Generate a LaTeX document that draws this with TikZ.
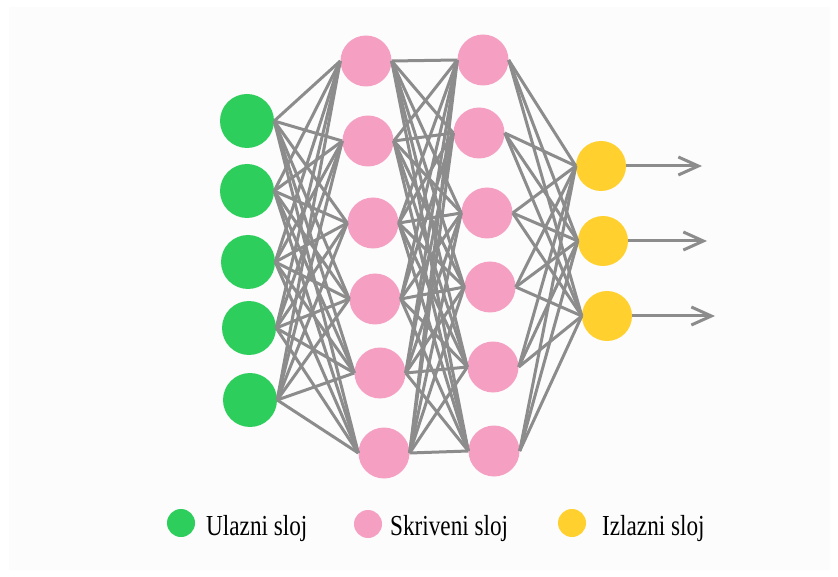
\documentclass[tikz,border=0pt]{standalone}
\usepackage{fontspec}
\setmainfont{Liberation Serif}
\newfontfamily\legendfont[FakeStretch=0.8]{Liberation Serif}
\usetikzlibrary{arrows.meta}
\definecolor{ingreen}{HTML}{2DCE5B}
\definecolor{hidpink}{HTML}{F5A0C2}
\definecolor{outyellow}{HTML}{FFD02E}
\definecolor{linkgray}{HTML}{8C8C8C}
\definecolor{panel}{HTML}{FCFCFC}
\begin{document}
\begin{tikzpicture}[x=1pt,y=-1pt,
  neuron/.style={circle,inner sep=0pt,minimum size=#1},
  link/.style={draw=linkgray,line width=3pt},
  legendtext/.style={anchor=base west,inner sep=0pt,font=\legendfont\fontsize{29}{30}\selectfont}]
\useasboundingbox (0,0) rectangle (838,577);
\fill[panel] (9,7) rectangle (830,570);
\foreach \x/\y [count=\i] in {247/121,247/191,248/262,249/328,250/400}
  \node[neuron=54,fill=ingreen] (in\i) at (\x,\y) {};
\foreach \x/\y [count=\i] in {366/61,368/141,373/223,375/299,380/373,384/453}
  \node[neuron=51,fill=hidpink] (ha\i) at (\x,\y) {};
\foreach \x/\y [count=\i] in {483/60,479/133,487/213,490/287,493/367,494/451}
  \node[neuron=51,fill=hidpink] (hb\i) at (\x,\y) {};
\foreach \x/\y/\e [count=\i] in {601/166/702,603/241/707,607/316/715}{
  \node[neuron=50,fill=outyellow] (out\i) at (\x,\y) {};
  \coordinate (end\i) at (\e,\y);
}
\foreach \i in {1,...,5}
  \foreach \j in {1,...,6}
    \draw[link] (in\i.east) -- (ha\j.west);
\foreach \i in {1,...,6}
  \foreach \j in {1,...,6}
    \draw[link] (ha\i.east) -- (hb\j.west);
\foreach \i in {1,...,6}
  \foreach \j in {1,2,3}
    \draw[link] (hb\i.east) -- (out\j.west);
\foreach \i in {1,2,3}
  \draw[link,-{Straight Barb[length=20pt,width=18pt,line width=3pt]}] (out\i.east) -- (end\i);
\node[neuron=28,fill=ingreen] (leg1) at (181,523) {};
\node[neuron=28,fill=hidpink] (leg2) at (368,524) {};
\node[neuron=28,fill=outyellow] (leg3) at (572,523) {};
\node[legendtext] (lab1) at (206,535) {Ulazni sloj};
\node[legendtext] (lab2) at (390,535) {Skriveni sloj};
\node[legendtext] (lab3) at (602,535) {Izlazni sloj};
\end{tikzpicture}
\end{document}
